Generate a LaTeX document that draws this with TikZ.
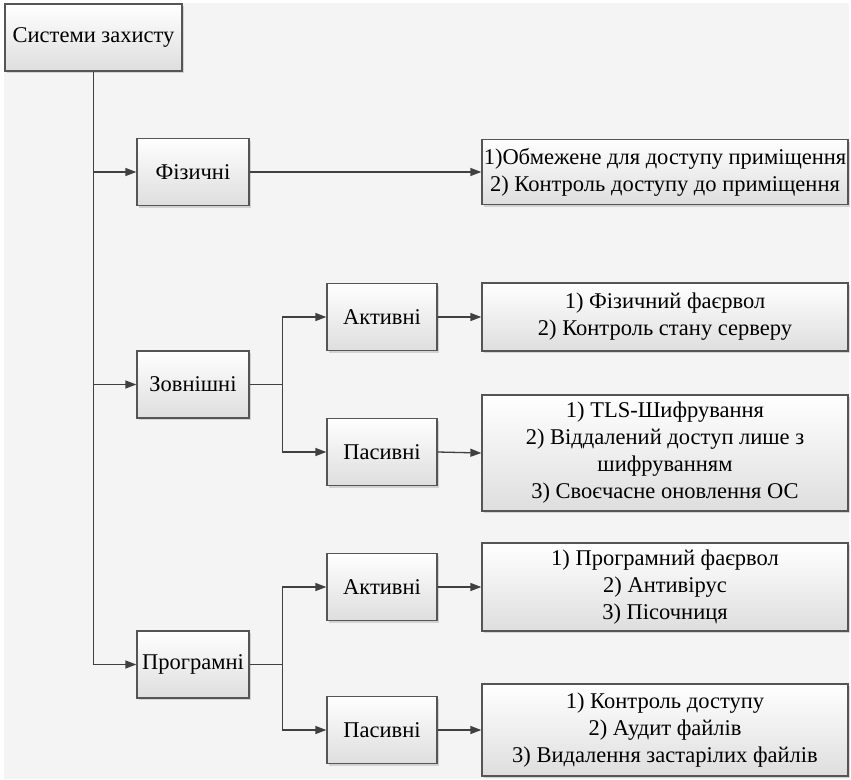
\documentclass[tikz,border=0pt]{standalone}
\usepackage{fontspec}
\setmainfont{Liberation Serif}
\usetikzlibrary{arrows.meta,shadows}
\definecolor{bgfill}{HTML}{F4F4F4}
\definecolor{boxline}{HTML}{555555}
\definecolor{linkline}{HTML}{404040}
\tikzset{
  block/.style={draw=boxline,line width=1.3pt,top color=white,bottom color=black!13,
    drop shadow={shadow xshift=2pt,shadow yshift=-2pt,fill=black!30,opacity=.5},
    minimum height=67pt,inner sep=0pt,align=center,
    font=\rmfamily\fontsize{22.5}{27}\selectfont},
  grp/.style={block,minimum width=112pt},
  sub/.style={block,minimum width=110pt},
  info/.style={block,minimum width=366pt},
  link/.style={draw=linkline,line width=1.3pt},
}

\begin{document}
\begin{tikzpicture}[x=1pt,y=-1pt,>={Triangle[length=11pt,width=8pt]}]
% Background
\fill[white] (0,0) rectangle (851,779);
\fill[bgfill] (4,3) rectangle (849,779);
\useasboundingbox (0,0) rectangle (851,779);

% Root
\node[block,minimum width=177pt] (root) at (93.5,37.5) {Системи захисту};

% First level
\node[grp] (fiz) at (193,172) {Фізичні};
\node[grp] (zovn) at (193,384.5) {Зовнішні};
\node[grp] (prog) at (193,664.5) {Програмні};

% Second level
\node[sub] (akt1) at (382,317) {Активні};
\node[sub] (pas1) at (382,452) {Пасивні};
\node[sub] (akt2) at (382,587) {Активні};
\node[sub] (pas2) at (382,730) {Пасивні};

% Measures
\node[info,minimum height=65pt] (mfiz) at (665,172)
  {1)Обмежене для доступу приміщення\\2) Контроль доступу до приміщення};
\node[info,minimum height=68pt] (makt1) at (665,317)
  {1) Фізичний фаєрвол\\2) Контроль стану серверу};
\node[info,minimum height=116pt] (mpas1) at (665,453)
  {1) TLS-Шифрування\\2) Віддалений доступ лише з\\шифруванням\\3) Своєчасне оновлення ОС};
\node[info,minimum height=88pt] (makt2) at (665,587)
  {1) Програмний фаєрвол\\2) Антивірус\\3) Пісочниця};
\node[info,minimum height=92pt] (mpas2) at (665,730)
  {1) Контроль доступу\\2) Аудит файлів\\3) Видалення застарілих файлів};

% Trunk
\draw[link,->] (root.south) |- (fiz.west);
\draw[link,->] (root.south) |- (zovn.west);
\draw[link,->] (root.south) |- (prog.west);

% Branches
\draw[link,->] (zovn.east) -- ++(33,0) |- (akt1.west);
\draw[link,->] (zovn.east) -- ++(33,0) |- (pas1.west);
\draw[link,->] (prog.east) -- ++(33,0) |- (akt2.west);
\draw[link,->] (prog.east) -- ++(33,0) |- (pas2.west);

% To measures
\draw[link,->] (fiz.east) -- (mfiz.west);
\draw[link,->] (akt1.east) -- (makt1.west);
\draw[link,->] (pas1.east) -- (mpas1.west);
\draw[link,->] (akt2.east) -- (makt2.west);
\draw[link,->] (pas2.east) -- (mpas2.west);
\end{tikzpicture}
\end{document}
